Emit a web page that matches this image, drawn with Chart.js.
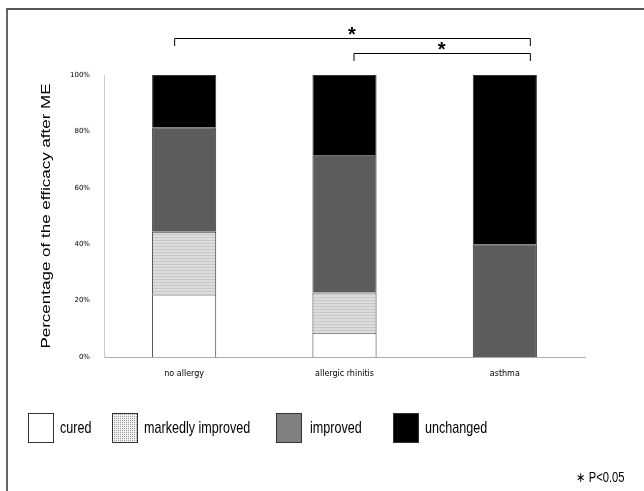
<!DOCTYPE html>
<html>
<head>
<meta charset="utf-8">
<script src="https://cdn.jsdelivr.net/npm/chart.js@4.4.0/dist/chart.umd.min.js"></script>
<style>
  html, body { margin: 0; padding: 0; background: #fff; }
  #wrap { position: relative; width: 644px; height: 491px; overflow: hidden; }
  #frame { position: absolute; left: 6px; top: 8px; width: 700px; height: 600px;
           border-left: 2px solid #666; border-top: 2px solid #555; }
  canvas { position: absolute; left: 0; top: 0; }
</style>
</head>
<body>
<div id="wrap">
  <div id="frame"></div>
  <canvas id="grafico" width="644" height="491"></canvas>
</div>
<script>
const categorias = ['no allergy', 'allergic rhinitis', 'asthma'];
const curado = [22.2, 8.6, 0];
const muitoMelhorado = [22.2, 14.3, 0];
const melhorado = [37.1, 48.5, 40];
const inalterado = [18.5, 28.6, 60];
const ticksY = ['0%', '20%', '40%', '60%', '80%', '100%'];
const nomesLegenda = ['cured', 'markedly improved', 'improved', 'unchanged'];
const tituloY = 'Percentage of the efficacy after ME';
// pares comparados com P<0.05 (indices das categorias)
const comparacoes = [[0, 2], [1, 2]];

const fonte = '"Liberation Sans", Arial, sans-serif';
const fonteTicks = '"DejaVu Sans", sans-serif';

// listras horizontais do "markedly improved"
function padraoListras() {
    const c = document.createElement('canvas');
    c.width = 4; c.height = 3;
    const g = c.getContext('2d');
    g.fillStyle = '#dcdcdc';
    g.fillRect(0, 0, 4, 3);
    g.fillStyle = '#c8c8c8';
    g.fillRect(0, 0, 4, 1);
    return g.createPattern(c, 'repeat');
}

function padraoPontos() {
    const c = document.createElement('canvas');
    c.width = 2; c.height = 2;
    const g = c.getContext('2d');
    g.fillStyle = '#f2f2f2';
    g.fillRect(0, 0, 2, 2);
    g.fillStyle = '#9a9a9a';
    g.fillRect(0, 0, 1, 1);
    return g.createPattern(c, 'repeat');
}

// titulo do eixo y (fonte estreita como no original)
const tituloEixo = {
    id: 'tituloEixo',
    afterDraw(chart) {
        const ctx = chart.ctx;
        ctx.save();
        ctx.translate(46, 216);
        ctx.scale(0.8, 1);
        ctx.rotate(-Math.PI / 2);
        ctx.font = '17px ' + fonte;
        ctx.fillStyle = '#000';
        ctx.textAlign = 'center';
        ctx.textBaseline = 'middle';
        ctx.fillText(tituloY, 0, 0);
        ctx.restore();
    }
};

// colchetes de significancia, desenhados a partir da escala x
const colchetes = {
    id: 'colchetes',
    afterDraw(chart) {
        const ctx = chart.ctx;
        const x = chart.scales.x;
        const niveis = [38, 53];
        ctx.save();
        comparacoes.forEach((par, i) => {
            const x1 = x.getPixelForValue(par[0]) - (i === 0 ? 10 : -9);
            const x2 = x.getPixelForValue(par[1]) + 25;
            const y = niveis[i];
            ctx.strokeStyle = '#000';
            ctx.lineWidth = 1;
            ctx.beginPath();
            ctx.moveTo(x1 + 0.5, y + 8);
            ctx.lineTo(x1 + 0.5, y + 0.5);
            ctx.lineTo(x2 + 0.5, y + 0.5);
            ctx.lineTo(x2 + 0.5, y + 8);
            ctx.stroke();
            ctx.fillStyle = '#000';
            ctx.font = 'bold 20px ' + fonte;
            ctx.textAlign = 'center';
            ctx.textBaseline = 'middle';
            ctx.fillText('*', (x1 + x2) / 2, y - 3);
        });
        ctx.restore();
    }
};

// legenda com caixas grandes embaixo
const legendaBaixo = {
    id: 'legendaBaixo',
    afterDraw(chart) {
        const ctx = chart.ctx;
        const caixas = [28, 112, 276, 393];
        const cores = ['#ffffff', padraoPontos(), '#808080', '#000000'];
        ctx.save();
        nomesLegenda.forEach((nome, i) => {
            ctx.fillStyle = cores[i];
            ctx.fillRect(caixas[i], 413, 25, 29);
            ctx.strokeStyle = '#333';
            ctx.lineWidth = 1;
            ctx.strokeRect(caixas[i] + 0.5, 413.5, 25, 29);
            ctx.save();
            ctx.translate(caixas[i] + (i === 2 ? 34 : 32), 428);
            ctx.scale(0.74, 1);
            ctx.font = '17px ' + fonte;
            ctx.textBaseline = 'middle';
            ctx.fillStyle = '#000';
            ctx.fillText(nome, 0, 0);
            ctx.restore();
        });
        ctx.translate(576, 478);
        ctx.scale(0.8, 1);
        ctx.font = '14px ' + fonte;
        ctx.textBaseline = 'middle';
        ctx.fillStyle = '#000';
        ctx.fillText('\u2217 P<0.05', 0, 0);
        ctx.restore();
    }
};

const ctx = document.getElementById('grafico').getContext('2d');
const listras = padraoListras();

function serie(label, data, cor) {
    return {
        label: label,
        data: data,
        backgroundColor: cor,
        borderColor: '#333',
        borderWidth: 1,
        barPercentage: 0.4,
        categoryPercentage: 1
    };
}

new Chart(ctx, {
    type: 'bar',
    data: {
        labels: categorias,
        datasets: [
            serie(nomesLegenda[0], curado, '#ffffff'),
            serie(nomesLegenda[1], muitoMelhorado, listras),
            serie(nomesLegenda[2], melhorado, '#5c5c5c'),
            serie(nomesLegenda[3], inalterado, '#000000')
        ]
    },
    options: {
        responsive: false,
        animation: false,
        layout: { padding: { left: 0, top: 75, right: 59, bottom: 0 } },
        plugins: {
            legend: { display: false },
            tooltip: { enabled: false }
        },
        scales: {
            x: {
                stacked: true,
                grid: { display: false },
                border: { color: '#aaa' },
                ticks: { color: '#000', font: { family: fonteTicks, size: 8 }, padding: 4 },
                afterFit(scale) { scale.height = 134; }
            },
            y: {
                stacked: true,
                min: 0,
                max: 100,
                grid: { display: false },
                border: { color: '#ccc' },
                ticks: {
                    stepSize: 20,
                    color: '#000',
                    font: { family: fonteTicks, size: 7 },
                    padding: 6,
                    callback: (v) => ticksY[v / 20]
                },
                afterFit(scale) { scale.width = 104; }
            }
        }
    },
    plugins: [tituloEixo, colchetes, legendaBaixo]
});
</script>
</body>
</html>
